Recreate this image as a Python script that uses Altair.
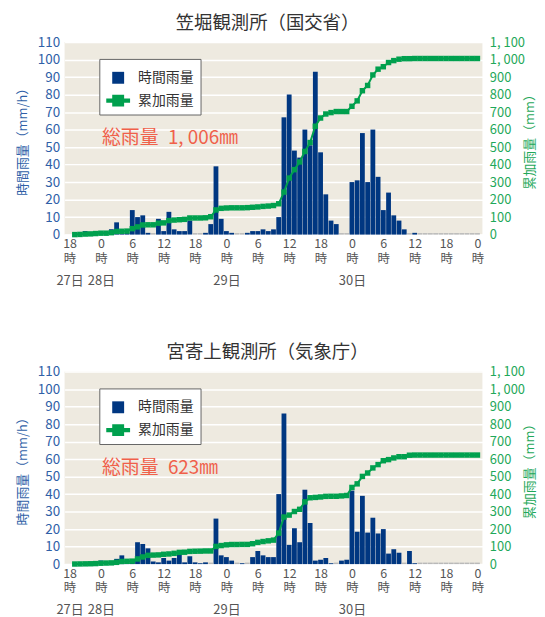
import json
import altair as alt
import pandas as pd

FONT = "Noto Sans CJK JP"
NAVY = "#003781"
GREEN = "#00a04e"
BLUE_TXT = "#2f5fa7"
GREEN_TXT = "#1fa85a"
RED = "#f0604a"
BG = "#eeeae0"

# hours counted from 27日18時 (index 1 = 19時)
HOURS = list(range(1, 79))
HOUR_TICKS = list(range(0, 79, 6))
HOUR_LABELS = ["18", "0", "6", "12", "18", "0", "6", "12", "18", "0", "6", "12", "18", "0"]
DATE_TICKS = [0, 6, 30, 54]
DATE_LABELS = ["27日", "28日", "29日", "30日"]
SERIES = ["時間雨量", "累加雨量"]

TITLES = ["笠堀観測所（国交省）", "宮寄上観測所（気象庁）"]
TOTAL_LABELS = ["総雨量\u20021, 006㎜", "総雨量\u2002623㎜"]

# 笠堀 (hourly rain, mm)
kasabori_rain = [0, 1, 2, 1, 2, 2, 0, 3, 7, 1,
                 1, 14, 10, 11, 1, 0, 9, 2, 13, 3,
                 2, 2, 8, 0, 0, 1, 6, 39, 9, 2,
                 1, 0, 0, 1, 2, 2, 3, 2, 3, 10,
                 67, 80, 48, 44, 60, 51, 93, 47, 23, 8,
                 6, 0, 0, 30, 31, 58, 30, 60, 33, 14,
                 24, 11, 8, 3, 0, 1, 0, 0, 0, 0,
                 0, 0, 0, 0, 0, 0, 0, 0]
# 笠堀 (cumulative rain, mm)
kasabori_cum = [0, 1, 3, 4, 6, 8, 8, 11, 18, 19,
                20, 34, 44, 55, 56, 56, 65, 67, 80, 83,
                85, 87, 95, 95, 95, 96, 102, 141, 150, 152,
                153, 153, 153, 154, 156, 158, 161, 163, 166, 176,
                243, 323, 371, 415, 475, 526, 619, 666, 689, 697,
                703, 703, 703, 733, 764, 822, 852, 912, 945, 959,
                983, 994, 1002, 1005, 1005, 1006, 1006, 1006, 1006, 1006,
                1006, 1006, 1006, 1006, 1006, 1006, 1006, 1006]

# 宮寄上 (hourly rain, mm)
miyayori_rain = [0.5, 0.5, 0.5, 0.5, 1, 2, 1, 1, 3, 5,
                 1, 1, 12.5, 11.5, 9, 1.5, 1, 3.5, 2, 3.5,
                 5.5, 1, 4.5, 1, 0.5, 1, 0, 26, 5, 4,
                 2, 0, 0.5, 0, 4, 7.5, 5, 4, 4, 40,
                 86, 11, 20.5, 12.5, 42.5, 23.5, 2, 2.5, 3.5, 0.5,
                 0, 2, 2.5, 42, 18.5, 39, 18, 26.5, 17.5, 20,
                 6, 8.5, 6.5, 0, 7.5, 0.5, 0, 0, 0, 0,
                 0, 0, 0, 0, 0, 0, 0, 0]
# 宮寄上 (cumulative rain, mm)
miyayori_cum = [0.5, 1, 1.5, 2, 3, 5, 6, 7, 10, 15,
                16, 17, 29.5, 41, 50, 51.5, 52.5, 56, 58, 61.5,
                67, 68, 72.5, 73.5, 74, 75, 75, 101, 106, 110,
                112, 112, 112.5, 112.5, 116.5, 124, 129, 133, 137, 177,
                269, 280, 300.5, 313, 355.5, 379, 381, 383.5, 387, 387.5,
                387.5, 389.5, 392, 438, 458.5, 501, 520.5, 549.5, 568.5, 590.5,
                597, 606.5, 613.5, 613.5, 622, 623, 623, 623, 623, 623,
                623, 623, 623, 623, 623, 623, 623, 623]

W, H = 421, 194
NOTE_X, NOTE_Y = 6.2, 55

SQ_PATH = "M-0.5,-0.5H0.5V0.5H-0.5Z"
LN_PATH = "M-1,-0.17H1V0.17H-1Z M-0.5,-0.5H0.5V0.5H-0.5Z"


def ternary(ticks, labels):
    expr = "''"
    for t, lab in reversed(list(zip(ticks, labels))):
        expr = f"datum.value == {t} ? '{lab}' : ({expr})"
    return expr


def legend_def():
    return alt.Legend(
        title=None, orient="none", legendX=35, legendY=17, direction="vertical",
        fillColor="white", strokeColor="#666666", padding=7,
        labelFont=FONT, labelFontSize=14, labelColor="#333333", labelOffset=8,
        symbolSize=576, symbolStrokeWidth=0, symbolOpacity=1, rowPadding=4,
    )


def panel(title, rain, cum, note):
    df = pd.DataFrame({"h": HOURS, "rain": rain, "cum": cum})
    base = alt.Chart(df)
    xs = alt.Scale(domain=[0, 78], nice=False, zero=False)
    yl = alt.Scale(domain=[0, 110], nice=False)
    yr = alt.Scale(domain=[0, 1100], nice=False)
    cscale = alt.Scale(domain=SERIES, range=[NAVY, GREEN])
    sscale = alt.Scale(domain=SERIES, range=[SQ_PATH, LN_PATH])

    x_hours = alt.Axis(
        orient="bottom", values=HOUR_TICKS,
        labelExpr="[" + ternary(HOUR_TICKS, HOUR_LABELS) + ", '時']",
        labelFlush=True, labelFlushOffset=2, ticks=False, domain=False, grid=False,
        labelPadding=3, labelFont=FONT, labelFontSize=12.5, labelColor="#555555",
        labelLineHeight=15, labelOverlap=False, title=None,
    )
    x_dates = alt.Axis(
        orient="bottom", values=DATE_TICKS,
        labelExpr=ternary(DATE_TICKS, DATE_LABELS),
        ticks=False, domain=False, grid=False, labelPadding=40, labelFont=FONT,
        labelFontSize=13, labelColor="#555555", labelOverlap=False, labelFlush=False,
        title=None,
    )
    y_left = alt.Axis(
        orient="left", values=list(range(0, 111, 10)), grid=True, gridColor="white",
        gridWidth=1.5, domain=False, ticks=False, labelColor=BLUE_TXT, labelFont=FONT,
        labelFontSize=13.5, labelPadding=5, title="時間雨量（mm/h）",
        titleColor=BLUE_TXT, titleFont=FONT, titleFontSize=13,
        titleFontWeight="normal", titleAngle=270, titlePadding=8,
    )
    y_right = alt.Axis(
        orient="right", values=list(range(0, 1101, 100)), grid=False, domain=False,
        ticks=False, labelColor=GREEN_TXT, labelFont=FONT, labelFontSize=13,
        labelPadding=7, labelExpr="replace(format(datum.value, ','), ',', ', ')",
        title="累加雨量（mm）", titleColor=GREEN_TXT, titleFont=FONT,
        titleFontSize=13, titleFontWeight="normal", titleAngle=270, titlePadding=12,
    )

    bars = base.transform_calculate(
        x0="datum.h - 0.46", x1="datum.h + 0.46", series="'" + SERIES[0] + "'"
    ).mark_bar(orient="vertical").encode(
        x=alt.X("x0:Q", scale=xs, axis=x_hours),
        x2="x1:Q",
        y=alt.Y("rain:Q", scale=yl, axis=y_left),
        y2=alt.datum(0),
        color=alt.Color("series:N", scale=cscale, legend=legend_def()),
    )
    zeros = base.transform_filter("datum.rain == 0").transform_calculate(
        x0="datum.h - 0.46", x1="datum.h + 0.46"
    ).mark_rule(color="#b9b9b9", strokeWidth=1.5, yOffset=-0.75).encode(
        x=alt.X("x0:Q", scale=xs, axis=None),
        x2="x1:Q",
        y=alt.Y("rain:Q", scale=yl, axis=None),
    )
    note_df = pd.DataFrame({"tx": [NOTE_X], "ty": [NOTE_Y], "t": [note]})
    note_layer = alt.Chart(note_df).mark_text(
        align="left", baseline="middle", font=FONT, fontSize=19, color=RED
    ).encode(
        x=alt.X("tx:Q", scale=xs, axis=None),
        y=alt.Y("ty:Q", scale=yl, axis=None),
        text="t:N",
    )

    line_base = base.transform_calculate(series="'" + SERIES[1] + "'")
    line = line_base.mark_line(strokeWidth=2).encode(
        x=alt.X("h:Q", scale=xs, axis=x_dates),
        y=alt.Y("cum:Q", scale=yr, axis=y_right),
        color=alt.Color("series:N", scale=cscale, legend=legend_def()),
    )
    pts = line_base.mark_point(shape="square", filled=True, size=30, opacity=1).encode(
        x=alt.X("h:Q", scale=xs, axis=None),
        y=alt.Y("cum:Q", scale=yr, axis=None),
        color=alt.Color("series:N", scale=cscale, legend=legend_def()),
    )
    leg = line_base.transform_filter("datum.h < 0").mark_point(filled=True).encode(
        x=alt.X("h:Q", scale=xs, axis=None),
        y=alt.Y("cum:Q", scale=yr, axis=None),
        color=alt.Color("series:N", scale=cscale, legend=legend_def()),
        shape=alt.Shape("series:N", scale=sscale, legend=legend_def()),
    )

    return alt.layer(bars, zeros, note_layer, line, pts, leg).resolve_scale(
        y="independent"
    ).resolve_axis(x="independent", y="independent").properties(
        width=W, height=H,
        title=alt.TitleParams(
            text=title, font=FONT, fontSize=18.5, fontWeight="normal",
            color="#333333", anchor="middle", dx=-6, offset=3,
        ),
    )


top = panel(TITLES[0], kasabori_rain, kasabori_cum, TOTAL_LABELS[0])
bottom = panel(TITLES[1], miyayori_rain, miyayori_cum, TOTAL_LABELS[1])

chart = alt.vconcat(top, bottom, spacing=56).resolve_scale(
    color="independent", shape="independent", x="independent", y="independent"
).resolve_legend(color="independent", shape="independent").properties(
    padding={"left": 8, "top": 3, "right": 0, "bottom": 0}
).configure(
    font=FONT, view=alt.ViewConfig(fill=BG, stroke=None)
)

chart.save("out.html", embed_options={"renderer": "svg", "actions": False})
